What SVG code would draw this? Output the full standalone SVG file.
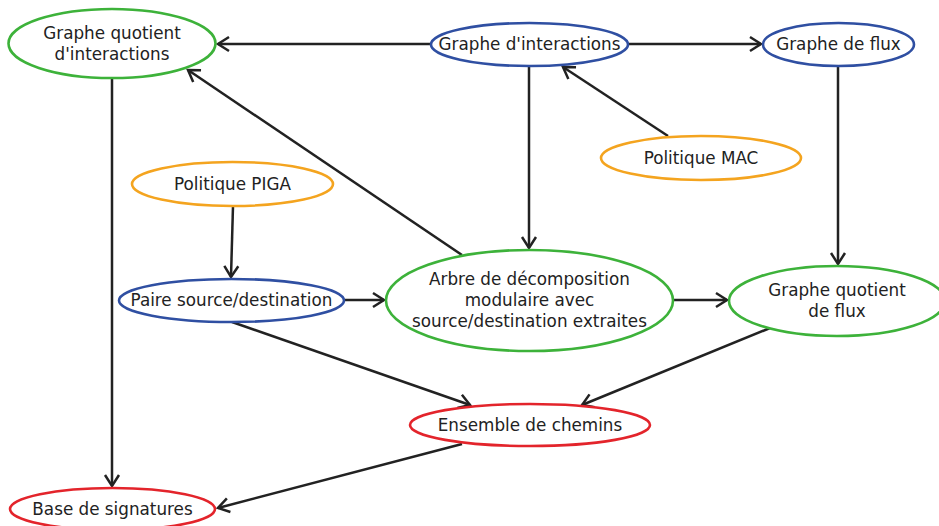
<svg xmlns="http://www.w3.org/2000/svg" width="939" height="526" viewBox="0 0 939 526">
  <style>
    .node ellipse { fill: #ffffff; stroke-width: 2.6; }
    .green ellipse { stroke: #3db23a; }
    .blue ellipse { stroke: #2f4fa2; }
    .orange ellipse { stroke: #f4a41f; }
    .red ellipse { stroke: #e3242b; }
    .node text { font-family: "DejaVu Sans", "Liberation Sans", sans-serif; font-size: 16.8px; fill: #222222; text-anchor: middle; }
    .edges line { stroke: #222222; stroke-width: 2.5; fill: none; marker-end: url(#arrow); }
  </style>
  <defs>
    <marker id="arrow" markerUnits="userSpaceOnUse" markerWidth="16" markerHeight="18" refX="12" refY="8" orient="auto" viewBox="0 0 16 16">
      <path d="M1,1 L12,8 L1,15" fill="none" stroke="#222222" stroke-width="2.5"/>
    </marker>
  </defs>

  <rect width="939" height="526" fill="#ffffff"/>

  <g class="edges">
    <line x1="431" y1="44" x2="218" y2="44"/>
    <line x1="628" y1="44" x2="761" y2="44"/>
    <line x1="529" y1="66" x2="529" y2="248"/>
    <line x1="668" y1="136" x2="563" y2="67"/>
    <line x1="462" y1="255" x2="188" y2="70"/>
    <line x1="112" y1="79" x2="112" y2="486"/>
    <line x1="838" y1="66" x2="838" y2="264"/>
    <line x1="233" y1="206" x2="231" y2="277"/>
    <line x1="344" y1="300" x2="384" y2="300"/>
    <line x1="674" y1="300" x2="727" y2="300"/>
    <line x1="232" y1="322" x2="470" y2="405"/>
    <line x1="770" y1="328" x2="582" y2="405"/>
    <line x1="462" y1="444" x2="218" y2="508"/>
  </g>

  <g id="graphe-quotient-interactions" class="node green">
    <ellipse cx="112" cy="43.5" rx="103.5" ry="34.5"/>
    <text x="112" y="39">Graphe quotient</text>
    <text x="112" y="60">d'interactions</text>
  </g>

  <g id="graphe-interactions" class="node blue">
    <ellipse cx="529.5" cy="44.5" rx="98.5" ry="21.5"/>
    <text x="529.5" y="50">Graphe d'interactions</text>
  </g>

  <g id="graphe-flux" class="node blue">
    <ellipse cx="838.5" cy="44.5" rx="75.5" ry="21.5"/>
    <text x="838.5" y="50">Graphe de flux</text>
  </g>

  <g id="politique-mac" class="node orange">
    <ellipse cx="701" cy="158" rx="100" ry="22"/>
    <text x="701" y="164">Politique MAC</text>
  </g>

  <g id="politique-piga" class="node orange">
    <ellipse cx="232.5" cy="184" rx="100.5" ry="22"/>
    <text x="232.5" y="190">Politique PIGA</text>
  </g>

  <g id="paire-source-destination" class="node blue">
    <ellipse cx="231.5" cy="300.5" rx="112.5" ry="21.5"/>
    <text x="231.5" y="306">Paire source/destination</text>
  </g>

  <g id="arbre-decomposition" class="node green">
    <ellipse cx="529.5" cy="300.5" rx="143.5" ry="50.5"/>
    <text x="529.5" y="285">Arbre de décomposition</text>
    <text x="529.5" y="306">modulaire avec</text>
    <text x="529.5" y="327">source/destination extraites</text>
  </g>

  <g id="graphe-quotient-flux" class="node green">
    <ellipse cx="837" cy="301" rx="108" ry="35"/>
    <text x="837" y="296">Graphe quotient</text>
    <text x="837" y="317">de flux</text>
  </g>

  <g id="ensemble-chemins" class="node red">
    <ellipse cx="530" cy="425" rx="120" ry="21"/>
    <text x="530" y="431">Ensemble de chemins</text>
  </g>

  <g id="base-signatures" class="node red">
    <ellipse cx="112.5" cy="509" rx="102.5" ry="21"/>
    <text x="112.5" y="515">Base de signatures</text>
  </g>
</svg>
